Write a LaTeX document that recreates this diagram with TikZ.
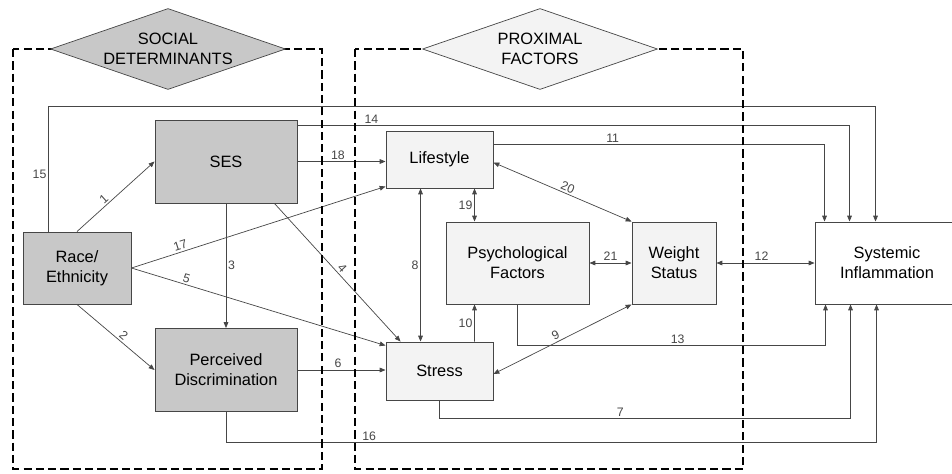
\documentclass[tikz,border=0pt]{standalone}
\usepackage{fontspec}
\setmainfont{Liberation Sans}
\usepackage{xcolor}
\definecolor{sdgray}{RGB}{200,200,200}
\definecolor{pfgray}{RGB}{243,243,243}
\definecolor{edgegray}{RGB}{70,70,70}
\usepackage{tikz}
\usetikzlibrary{arrows.meta,positioning,shapes.geometric,calc}

\begin{document}
\begin{tikzpicture}[
  x=0.03cm, y=-0.03cm,
  sdbox/.style={
    draw=edgegray, fill=sdgray, line width=0.8pt, inner sep=0pt,
    align=center, font=\fontsize{14}{17}\selectfont
  },
  pfbox/.style={
    draw=edgegray, fill=pfgray, line width=0.8pt, inner sep=0pt,
    align=center, font=\fontsize{14}{17}\selectfont
  },
  outbox/.style={
    draw=edgegray, fill=white, line width=0.8pt, inner sep=0pt,
    align=center, font=\fontsize{14}{17}\selectfont
  },
  banner/.style={
    diamond, aspect=2.9, draw=edgegray, line width=0.6pt, inner sep=0pt,
    minimum width=7.05cm, minimum height=2.43cm,
    align=center, font=\fontsize{14}{17}\selectfont
  },
  frame/.style={draw=black, line width=2pt, dash pattern=on 7pt off 3.5pt},
  arrow/.style={-{Triangle[length=5pt,width=4pt]}, line width=0.6pt, draw=edgegray},
  dblarrow/.style={{Triangle[length=5pt,width=4pt]}-{Triangle[length=5pt,width=4pt]}, line width=0.6pt, draw=edgegray},
  num/.style={font=\fontsize{10.5}{12}\selectfont, inner sep=1.5pt, text=edgegray}
]
\useasboundingbox (0,0) rectangle (952,473);

% social determinants
\node[sdbox, minimum width=3.24cm, minimum height=2.16cm] (race) at (77,268) {Race/\\Ethnicity};
\node[sdbox, minimum width=4.26cm, minimum height=2.49cm] (ses) at (226,161.5) {SES};
\node[sdbox, minimum width=4.26cm, minimum height=2.49cm] (pd) at (226,370) {Perceived\\Discrimination};

% proximal factors
\node[pfbox, minimum width=3.21cm, minimum height=1.71cm] (life) at (439.5,159.5) {Lifestyle};
\node[pfbox, minimum width=4.29cm, minimum height=2.46cm] (psych) at (517.5,263) {Psychological\\Factors};
\node[pfbox, minimum width=2.52cm, minimum height=2.46cm] (weight) at (674,263) {Weight\\Status};
\node[pfbox, minimum width=3.21cm, minimum height=1.74cm] (stress) at (439.5,371) {Stress};

% outcome (runs off the right edge)
\node[outbox, minimum width=4.32cm, minimum height=2.46cm] (sysinf) at (887,263) {Systemic\\Inflammation};

% paths
\draw[arrow] (race.north) -- (ses.west) node[num, sloped, above, pos=.4] {1};
\draw[arrow] (race.south) -- (pd.west) node[num, sloped, above, pos=.55] {2};
\draw[arrow] (ses.south) -- (pd.north) node[num, right, pos=.5] {3};
\draw[arrow] ($(ses.south east)+(-23,0)$) -- ($(stress.north west)+(15,0)$) node[num, sloped, above, pos=.5] {4};
\draw[arrow] (race.east) -- ($(stress.north west)+(0,4)$) node[num, sloped, above, pos=.21] {5};
\draw[arrow] (pd.east) -- (pd.east -| stress.west) node[num, above, pos=.46] {6};
\draw[arrow] (stress.south) -- ++(0,18) -| ($(sysinf.south west)+(36,0)$) node[num, above, pos=.22] {7};
\draw[dblarrow] ($(life.south west)+(35,0)$) -- ($(stress.north west)+(35,0)$) node[num, left, pos=.5] {8};
\draw[dblarrow] ($(stress.east)+(0,3)$) -- (weight.south west) node[num, sloped, above, pos=.47] {9};
\draw[arrow] ($(stress.north west)+(89,0)$) -- ($(psych.south west)+(29,0)$) node[num, left, pos=.5] {10};
\draw[arrow] ($(life.north east)+(0,14)$) -| ($(sysinf.north west)+(10,0)$) node[num, above, pos=.18] {11};
\draw[dblarrow] (weight.east) -- (sysinf.west) node[num, above, pos=.46] {12};
\draw[arrow] (psych.south) -- ++(0,41) -| ($(sysinf.south west)+(11,0)$) node[num, above, pos=.26] {13};
\draw[arrow] ($(ses.north east)+(0,6)$) -| ($(sysinf.north west)+(35,0)$) node[num, above, pos=.067] {14};
\draw[arrow] ($(race.north west)+(26,0)$) -- ++(0,-125) node[num, left, pos=.46] {15} -| ($(sysinf.north west)+(61,0)$);
\draw[arrow] (pd.south) -- ++(0,30.5) -| ($(sysinf.south west)+(62,0)$) node[num, above, pos=.11] {16};
\draw[arrow] (race.east) -- ($(life.south west)+(0,-2)$) node[num, sloped, above, pos=.2] {17};
\draw[arrow] (ses.east) -- (ses.east -| life.west) node[num, above, pos=.46] {18};
\draw[dblarrow] ($(life.south west)+(89,0)$) -- ($(psych.north west)+(29,0)$) node[num, left, pos=.5] {19};
\draw[dblarrow] ($(life.east)+(0,3)$) -- (weight.north west) node[num, sloped, above, pos=.52] {20};
\draw[dblarrow] (psych.east) -- (weight.west) node[num, above, pos=.5] {21};

% group frames
\draw[frame] (13,49) rectangle (322,469);
\draw[frame] (355,49) rectangle (743,469);
\node[banner, fill=sdgray] (sdhead) at (168,49) {SOCIAL\\DETERMINANTS};
\node[banner, fill=pfgray] (pfhead) at (540,49) {PROXIMAL\\FACTORS};
\end{tikzpicture}
\end{document}
